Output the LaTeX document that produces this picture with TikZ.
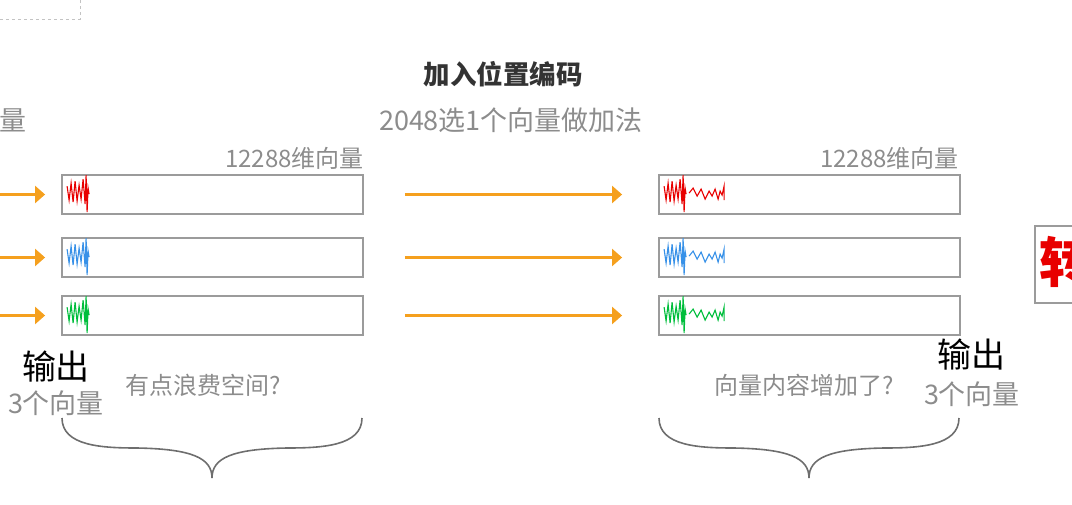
\documentclass[tikz,border=0pt]{standalone}
\usepackage{fontspec}
\newfontfamily\cjk{Noto Sans CJK SC}
\usetikzlibrary{arrows.meta,calc,positioning}
\definecolor{txtgray}{RGB}{140,140,140}
\definecolor{boxgray}{RGB}{155,155,155}
\definecolor{flowor}{RGB}{245,160,30}
\definecolor{sigred}{RGB}{232,0,0}
\definecolor{sigblue}{RGB}{55,145,232}
\definecolor{siggreen}{RGB}{0,190,60}
\definecolor{bracegray}{RGB}{110,110,110}
\newcommand{\fs}[1]{\cjk\fontsize{#1}{#1}\selectfont}

\begin{document}
\begin{tikzpicture}[x=1pt,y=-1pt, every node/.style={font=\fs{24}, text=txtgray, inner sep=0pt}]
  \tikzset{
    vecbox/.style={draw=boxgray, line width=1.8pt, minimum width=301pt, minimum height=39pt},
    flow/.style={flowor, line width=2.2pt, -{Triangle[length=10pt,width=17pt]}},
    wave/.style={line width=1.1pt, line join=miter},
    bracepath/.style={bracegray, line width=1.6pt}
  }
  \clip (0,0) rectangle (1072,504);
  % dashed frame top left
  \draw[dashed, boxgray!60, line width=1pt] (0,19) -- (80,19) -- (80,0);
  \node (lcut) at (13,120) {\fs{27}量};
  % titles
  \node[font=\fs{26.5}\bfseries, text=black!80] (title) at (503,74) {加入位置编码};
  \node[font=\fs{27}] (sub) at (511,120) {2048选1个向量做加法};
  % vector rows
  \foreach \i/\y/\c in {1/194.5/sigred, 2/257.5/sigblue, 3/315.5/siggreen}{
    \node[vecbox] (l\i) at (212.5,\y) {};
    \node[vecbox] (r\i) at (809.5,\y) {};
    \coordinate (s\i) at (0,\y);
    \draw[flow, shorten >=16pt] (s\i) -- (l\i.west);
    \draw[flow, shorten <=41pt, shorten >=36pt] (l\i.east) -- (r\i.west);
    \draw[\c, wave, shift={(l\i.north west)}] plot coordinates {(6,12) (8,26) (10,9) (12,28) (14,7) (16,27) (18,11) (20,25) (22,5) (24,30) (25,1) (26,38) (27,14) (28,20)};
    \draw[\c, wave, shift={(r\i.north west)}] plot coordinates {(6,12) (8,26) (10,9) (12,28) (14,7) (16,27) (18,11) (20,25) (22,5) (24,30) (25,1) (26,38) (27,14) (28,20)};
    \draw[\c, wave, shift={(r\i.north west)}] plot coordinates {(31,19) (35,14) (39,22) (43,15) (47,25) (51,17) (54,22) (57,15) (60,25) (62,17) (64,21) (66,12) (66,26)};
  }
  \node[anchor=east] (ldim) at ([yshift=16pt]l1.north east) {12288维向量};
  \node[anchor=east] (rdim) at ([yshift=16pt,xshift=-2pt]r1.north east) {12288维向量};
  % notes under the rows
  \node[font=\fs{34}, text=black] (lout) at (56,367) {输出};
  \node[font=\fs{27}] (lcnt) at (56,403) {3个向量};
  \node (lnote) at (203,385) {有点浪费空间?};
  \node (rnote) at (804,385) {向量内容增加了?};
  \node[font=\fs{34}, text=black] (rout) at (971,355) {输出};
  \node[font=\fs{27}] (rcnt) at (972,394) {3个向量};
  % braces
  \foreach \x in {62,659}
    \draw[bracepath] (\x,418) .. controls (\x,446) and (\x+40,448) .. (\x+75,448)
      .. controls (\x+130,449) and (\x+150,458) .. (\x+150,478)
      .. controls (\x+150,458) and (\x+170,449) .. (\x+225,448)
      .. controls (\x+260,448) and (\x+300,446) .. (\x+300,418);
  % next slide, cut at the edge
  \node[draw=boxgray, line width=1.8pt, minimum width=80pt, minimum height=77pt, anchor=north west] (nextbox) at (1034,225) {};
  \node[font=\fs{54}\bfseries, text=sigred] (nextlbl) at (1066,262) {转};
\end{tikzpicture}
\end{document}
